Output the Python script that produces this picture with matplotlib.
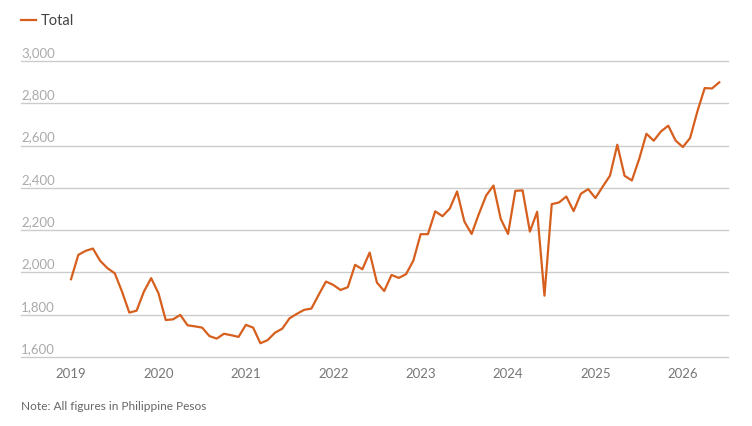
import matplotlib.pyplot as plt
import matplotlib.transforms as mtransforms
from matplotlib.ticker import FuncFormatter

plt.rcParams['font.family'] = ['Lato', 'DejaVu Sans']

# monthly values, Jan 2019 - Jun 2026
values = [
    1968, 2083, 2102, 2113, 2055, 2020, 1996, 1909, 1810, 1819, 1909, 1973,
    1902, 1775, 1778, 1799, 1750, 1745, 1739, 1699, 1687, 1710, 1703, 1695,
    1752, 1739, 1665, 1680, 1715, 1734, 1783, 1804, 1823, 1829, 1894, 1957,
    1941, 1917, 1930, 2036, 2015, 2094, 1952, 1912, 1988, 1974, 1992, 2056,
    2181, 2181, 2289, 2266, 2302, 2383, 2241, 2182, 2277, 2364, 2411, 2253,
    2182, 2386, 2388, 2193, 2287, 1890, 2323, 2331, 2359, 2290, 2372, 2394,
    2352, 2406, 2458, 2604, 2457, 2435, 2536, 2656, 2623, 2667, 2694, 2624,
    2593, 2636, 2762, 2872, 2870, 2899,
]
months = list(range(len(values)))
years = [2019, 2020, 2021, 2022, 2023, 2024, 2025, 2026]
year_ticks = [(y - 2019) * 12 for y in years]
y_ticks = [1600, 1800, 2000, 2200, 2400, 2600, 2800, 3000]

orange = '#d65f1e'

fig = plt.figure(figsize=(7.52, 4.26), dpi=100)
ax = fig.add_axes([21 / 752, 69 / 426, 707 / 752, 296 / 426])

ax.plot(months, values, color=orange, linewidth=1.6)

ax.set_ylim(1600, 3000)
ax.set_xlim(-6.87, 90.2)
ax.set_yticks(y_ticks)
ax.yaxis.set_major_formatter(FuncFormatter(lambda v, p: f'{int(v):,}'))
ax.set_xticks(year_ticks)
ax.set_xticklabels([str(y) for y in years])

ax.grid(axis='y', color='#cccccc', linewidth=1)
ax.set_axisbelow(True)
for gl in ax.get_ygridlines():
    gl.set_clip_on(False)
for s in ax.spines.values():
    s.set_visible(False)

ax.tick_params(axis='x', length=0, pad=8, labelsize=9.5, labelcolor='#777777')
ax.tick_params(axis='y', length=0, labelsize=9.5, labelcolor='#aaaaaa', pad=0)
shift = mtransforms.ScaledTranslation(0, 2 / 100, fig.dpi_scale_trans)
for lbl in ax.get_yticklabels():
    lbl.set_horizontalalignment('left')
    lbl.set_verticalalignment('bottom')
    lbl.set_x(0)
    lbl.set_transform(ax.get_yaxis_transform() + shift)

# legend
fig.add_artist(plt.Line2D([21 / 752, 36 / 752], [1 - 20 / 426, 1 - 20 / 426],
                          color=orange, linewidth=1.6))
fig.text(41 / 752, 1 - 21 / 426, 'Total', fontsize=10.5, color='#444444',
         va='center', ha='left')

fig.text(21 / 752, 1 - 406 / 426, 'Note: All figures in Philippine Pesos',
         fontsize=8.6, color='#666666', va='center', ha='left')

fig.savefig('out.png', dpi=100)
